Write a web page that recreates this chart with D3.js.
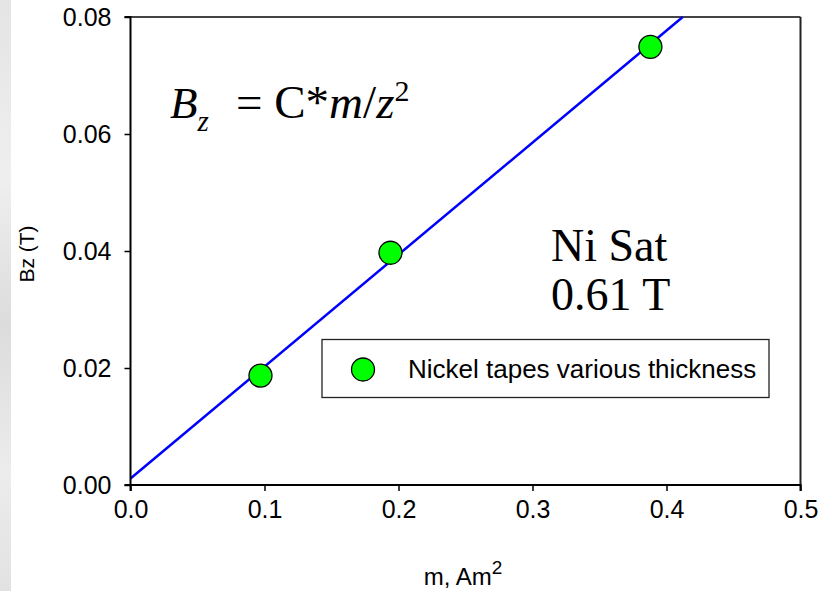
<!DOCTYPE html>
<html>
<head>
<meta charset="utf-8">
<script src="https://cdn.jsdelivr.net/npm/d3@7"></script>
<style>
  body { margin: 0; background: #fff; }
  svg text { font-family: Arial, "Liberation Sans", sans-serif; }
  .serif { font-family: "Times New Roman", "Liberation Serif", serif; }
</style>
</head>
<body>
<div id="chart"></div>
<script>
// data
var mValues = [0.097, 0.194, 0.388];
var bzValues = [0.0187, 0.0397, 0.0749];
var xTicks = [0, 0.1, 0.2, 0.3, 0.4, 0.5];
var yTicks = [0, 0.02, 0.04, 0.06, 0.08];
var seriesName = "Nickel tapes various thickness";

var W = 834, H = 591;
var pLeft = 130.5, pRight = 800.5, pTop = 17, pBottom = 485;

var svg = d3.select("#chart").append("svg").attr("width", W).attr("height", H);

// marbled strip on the left edge
var grad = svg.append("defs").append("linearGradient").attr("id", "edge")
    .attr("x1", 0).attr("y1", 0).attr("x2", 0).attr("y2", 1);
[["0%", "#e4e4e4"], ["30%", "#efefef"], ["55%", "#dcdcdc"], ["80%", "#ececec"], ["100%", "#e2e2e2"]]
    .forEach(function (s) { grad.append("stop").attr("offset", s[0]).attr("stop-color", s[1]); });
svg.append("rect").attr("x", 0).attr("y", 0).attr("width", 11).attr("height", H).attr("fill", "url(#edge)");

var x = d3.scaleLinear().domain([0, 0.5]).range([pLeft, pRight]);
var y = d3.scaleLinear().domain([0, 0.08]).range([pBottom, pTop]);

// frame top/right
svg.append("line").attr("x1", pLeft).attr("x2", pRight).attr("y1", pTop).attr("y2", pTop)
    .attr("stroke", "#444").attr("stroke-width", 2);
svg.append("line").attr("x1", pRight).attr("x2", pRight).attr("y1", pTop).attr("y2", pBottom)
    .attr("stroke", "#222").attr("stroke-width", 2);

// least squares fit of the points
var mx = d3.mean(mValues), my = d3.mean(bzValues);
var sxy = d3.sum(mValues, function (d, i) { return (d - mx) * (bzValues[i] - my); });
var sxx = d3.sum(mValues, function (d) { return (d - mx) * (d - mx); });
var slope = sxy / sxx, icpt = my - slope * mx;
var xEnd = (0.08 - icpt) / slope;

svg.append("line")
    .attr("x1", x(0)).attr("y1", y(icpt))
    .attr("x2", x(xEnd)).attr("y2", y(0.08))
    .attr("stroke", "#0000ff").attr("stroke-width", 2.5);

// axes
var xAxis = svg.append("g").attr("transform", "translate(0," + pBottom + ")")
    .call(d3.axisBottom(x).tickValues(xTicks).tickFormat(d3.format(".1f")).tickSize(6).tickPadding(9));
var yAxis = svg.append("g").attr("transform", "translate(" + pLeft + ",0)")
    .call(d3.axisLeft(y).tickValues(yTicks).tickFormat(d3.format(".2f")).tickSize(6).tickPadding(13));
[xAxis, yAxis].forEach(function (g) {
    g.attr("font-size", null).attr("font-family", null);
    g.select(".domain").attr("stroke", "#000").attr("stroke-width", 2);
    g.selectAll(".tick line").attr("stroke", "#000").attr("stroke-width", 1.5);
    g.selectAll(".tick text").attr("fill", "#000").style("font-size", "25px");
});
xAxis.select(".domain").attr("d", "M" + pLeft + ",6V0H" + pRight + "V6");
yAxis.select(".domain").attr("d", "M-6," + pTop + "H0V" + pBottom + "H-6");

// points
svg.selectAll("circle.pt").data(mValues).enter().append("circle").attr("class", "pt")
    .attr("cx", function (d) { return x(d); })
    .attr("cy", function (d, i) { return y(bzValues[i]); })
    .attr("r", 11.5)
    .attr("fill", "#00ff00").attr("stroke", "#000").attr("stroke-width", 1.3);

// axis titles
svg.append("text").attr("transform", "translate(34,254) rotate(-90)")
    .attr("text-anchor", "middle").style("font-size", "21px").text("Bz (T)");
var xl = svg.append("text").attr("x", 463).attr("y", 585).attr("text-anchor", "middle").style("font-size", "24px");
xl.append("tspan").text("m, Am");
xl.append("tspan").attr("dy", -11).style("font-size", "19px").text("2");

// formula
var f = svg.append("text").attr("class", "serif").attr("x", 170).attr("y", 118).style("font-size", "45px");
f.append("tspan").style("font-style", "italic").text("B");
f.append("tspan").attr("dy", 13).style("font-style", "italic").style("font-size", "29px").text("z");
f.append("tspan").attr("x", 236).attr("dy", -13).style("font-size", "47px").text("= C*");
f.append("tspan").style("font-style", "italic").style("font-size", "47px").text("m");
f.append("tspan").style("font-size", "47px").text("/");
f.append("tspan").style("font-style", "italic").style("font-size", "47px").text("z");
f.append("tspan").attr("dy", -17).style("font-size", "30px").text("2");

svg.append("text").attr("class", "serif").attr("x", 551).attr("y", 261).style("font-size", "46px").text("Ni Sat");
svg.append("text").attr("class", "serif").attr("x", 551).attr("y", 310).style("font-size", "46px").text("0.61 T");

// legend
var lg = svg.append("g");
lg.append("rect").attr("x", 322).attr("y", 339.5).attr("width", 447).attr("height", 58)
    .attr("fill", "#fff").attr("stroke", "#222").attr("stroke-width", 1.3);
lg.append("circle").attr("cx", 363).attr("cy", 369.5).attr("r", 11.5)
    .attr("fill", "#00ff00").attr("stroke", "#000").attr("stroke-width", 1.3);
lg.append("text").attr("x", 408).attr("y", 378).style("font-size", "26px").text(seriesName);
</script>
</body>
</html>
